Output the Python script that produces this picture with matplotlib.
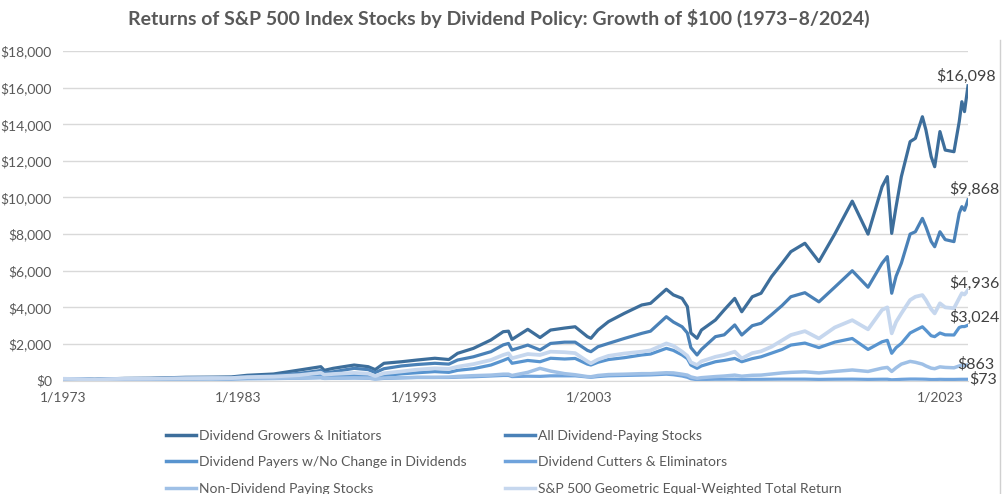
import numpy as np
import matplotlib
matplotlib.use('Agg')
import matplotlib.pyplot as plt
from matplotlib import rcParams
from matplotlib.transforms import ScaledTranslation
from matplotlib.lines import Line2D

rcParams['font.family'] = ['Lato', 'DejaVu Sans']
rcParams['font.size'] = 10

# time grid (decimal years)
years = [1973.0, 1974.0, 1974.8, 1975.5, 1976.5, 1978.0, 1980.0, 1981.5, 1982.6, 1983.5,
         1985.0, 1986.5, 1987.7, 1987.9, 1988.4, 1989.6, 1990.4, 1990.8, 1991.3, 1992.3,
         1993.2, 1994.2, 1995.0, 1995.5, 1996.4, 1997.4, 1998.1, 1998.4, 1998.6, 1999.5,
         2000.2, 2000.8, 2001.6, 2002.2, 2002.9, 2003.1, 2003.5, 2004.1, 2005.0, 2006.0,
         2006.5, 2007.4, 2007.8, 2008.3, 2008.6, 2008.8, 2009.15, 2009.4, 2010.2, 2010.7,
         2011.3, 2011.7, 2012.3, 2012.8, 2013.4, 2014.0, 2014.5, 2015.3, 2016.1, 2017.0,
         2018.0, 2018.9, 2019.7, 2020.0, 2020.25, 2020.5, 2020.8, 2021.3, 2021.6, 2022.0,
         2022.2, 2022.5, 2022.7, 2023.0, 2023.3, 2023.8, 2024.1, 2024.25, 2024.4, 2024.6]

growers = [100, 90, 70, 95, 120, 130, 180, 190, 200, 290,
           360, 580, 760, 560, 670, 850, 760, 600, 945, 1030,
           1125, 1220, 1150, 1490, 1760, 2220, 2670, 2700, 2250, 2800,
           2350, 2760, 2870, 2940, 2400, 2310, 2760, 3220, 3670, 4130,
           4220, 4990, 4680, 4490, 4040, 2600, 2310, 2760, 3310, 3860,
           4490, 3760, 4580, 4770, 5680, 6410, 7040, 7500, 6500, 8000,
           9800, 8000, 10590, 11140, 8040, 9500, 11140, 13050, 13230, 14410,
           13690, 12230, 11680, 13600, 12590, 12500, 14140, 15230, 14690, 16098]

all_payers = [100, 90, 65, 90, 110, 115, 150, 160, 170, 230,
              280, 400, 550, 420, 480, 670, 600, 440, 650, 800,
              880, 945, 900, 1125, 1300, 1580, 1950, 2030, 1670, 1940,
              1670, 2030, 2100, 2100, 1650, 1580, 1850, 2030, 2300, 2580,
              2700, 3490, 3200, 2940, 2600, 1800, 1400, 1700, 2400, 2500,
              3040, 2490, 3000, 3130, 3600, 4100, 4580, 4800, 4300, 5100,
              6000, 5100, 6410, 6770, 4770, 5700, 6410, 8000, 8130, 8860,
              8400, 7600, 7310, 8130, 7700, 7590, 9140, 9500, 9300, 9868]

no_change = [100, 85, 60, 80, 95, 95, 110, 115, 110, 150,
             170, 210, 280, 220, 240, 300, 250, 180, 280, 370,
             430, 490, 450, 560, 650, 850, 1100, 1220, 945, 1100,
             1030, 1220, 1180, 1210, 900, 850, 1000, 1150, 1250, 1400,
             1450, 1760, 1650, 1400, 1200, 850, 670, 800, 1030, 1100,
             1210, 1030, 1200, 1300, 1500, 1700, 1940, 2050, 1800, 2100,
             2300, 1700, 2120, 2200, 1490, 1800, 2030, 2600, 2750, 2940,
             2750, 2450, 2400, 2600, 2500, 2490, 2900, 2950, 2950, 3024]

cutters = [100, 80, 50, 65, 80, 80, 90, 90, 80, 100,
           110, 130, 160, 120, 130, 150, 130, 90, 120, 150,
           170, 170, 170, 190, 210, 250, 280, 280, 220, 240,
           230, 260, 260, 260, 200, 180, 220, 260, 280, 300,
           310, 350, 320, 250, 180, 100, 50, 60, 75, 75,
           80, 65, 70, 70, 75, 80, 80, 80, 65, 75,
           80, 65, 75, 75, 45, 55, 70, 85, 85, 80,
           75, 60, 60, 70, 65, 65, 70, 72, 72, 73]

non_payers = [100, 75, 50, 70, 85, 90, 120, 130, 110, 150,
              130, 140, 170, 120, 130, 150, 140, 100, 140, 160,
              180, 180, 190, 230, 270, 300, 350, 350, 280, 450,
              670, 520, 380, 320, 220, 210, 280, 330, 350, 380,
              380, 430, 420, 350, 300, 200, 125, 160, 220, 250,
              300, 240, 290, 300, 360, 420, 450, 480, 420, 500,
              580, 500, 680, 720, 500, 700, 900, 1050, 1000, 900,
              800, 680, 650, 750, 720, 700, 800, 850, 820, 863]

equal_wt = [100, 80, 55, 80, 100, 105, 130, 140, 140, 190,
            220, 300, 430, 320, 360, 420, 380, 250, 400, 500,
            600, 670, 640, 760, 900, 1125, 1400, 1490, 1220, 1450,
            1400, 1580, 1550, 1500, 1050, 945, 1150, 1350, 1480, 1580,
            1650, 2030, 1900, 1580, 1350, 1000, 850, 1050, 1300, 1400,
            1580, 1210, 1500, 1600, 1850, 2200, 2490, 2700, 2300, 2900,
            3300, 2800, 3860, 4000, 2580, 3200, 3670, 4400, 4580, 4670,
            4400, 3900, 3670, 4220, 4000, 3950, 4500, 4770, 4700, 4936]

series_names = ['Dividend Growers & Initiators', 'All Dividend-Paying Stocks',
                'Dividend Payers w/No Change in Dividends', 'Dividend Cutters & Eliminators',
                'Non-Dividend Paying Stocks', 'S&P 500 Geometric Equal-Weighted Total Return']
end_labels = ['$16,098', '$9,868', '$3,024', '$73', '$863', '$4,936']

tick_years = [1973, 1983, 1993, 2003, 2023]
tick_labels = ['1/1973', '1/1983', '1/1993', '1/2003', '1/2023']
y_ticks = np.arange(0, 18001, 2000)

colors = ['#3D6E9B', '#4A81B7', '#5894CF', '#6FA3DC', '#9FC0E6', '#C6D7EE']
widths = [2.3, 2.3, 2.3, 2.3, 2.5, 2.7]
# label offsets in pixels (dx, dy)
label_off = [(-2, 9), (6, 11), (6, 8), (15, 0), (8, 1), (6, 7)]

fig = plt.figure(figsize=(10.03, 4.94), dpi=100)
ax = fig.add_axes([63/1003, 1-380.6/494, 905/1003, 329.6/494])

data = [growers, all_payers, no_change, cutters, non_payers, equal_wt]
lines = []
for vals, name, c, w in zip(data, series_names, colors, widths):
    ln, = ax.plot(years, vals, color=c, lw=w, label=name, solid_joinstyle='round')
    lines.append(ln)

for vals, lab, (dx, dy) in zip(data, end_labels, label_off):
    ax.annotate(lab, xy=(years[-1], vals[-1]), xytext=(dx*0.72, dy*0.72),
                textcoords='offset points', ha='center', va='center',
                fontsize=11.5, color='#404040')

ax.set_xlim(1973, 2024.6)
ax.set_ylim(0, 18000)
ax.set_yticks(y_ticks)
ax.set_yticklabels(['${:,.0f}'.format(v) for v in y_ticks])
ax.set_xticks(tick_years)
ax.set_xticklabels(tick_labels)
# excel puts the category labels a bit left of the month they belong to
shift = ScaledTranslation(-20/100, 0, fig.dpi_scale_trans)
for lbl in ax.get_xticklabels():
    lbl.set_transform(lbl.get_transform() + shift)

ax.tick_params(axis='both', length=0, labelcolor='#595959', labelsize=10)
ax.tick_params(axis='y', pad=8)
ax.tick_params(axis='x', pad=8)
ax.grid(axis='y', color='#D9D9D9', lw=1)
ax.set_axisbelow(True)
for s in ['top', 'right', 'left']:
    ax.spines[s].set_visible(False)
ax.spines['bottom'].set_color('#D9D9D9')

fig.text(0.497, 1-18/494, 'Returns of S&P 500 Index Stocks by Dividend Policy: Growth of $100 (1973\u20138/2024)',
         ha='center', va='center', fontsize=14, fontweight='bold', color='#595959')

# legend, filled row by row like the original
order = [0, 2, 4, 1, 3, 5]
leg = fig.legend([lines[i] for i in order], [series_names[i] for i in order],
                 ncol=2, loc='upper left', bbox_to_anchor=(153/1003, 1-417/494),
                 frameon=False, fontsize=10, handlelength=2.2, handletextpad=0.2,
                 columnspacing=2.75, labelspacing=1.05, labelcolor='#595959')
for h in leg.legend_handles:
    h.set_linewidth(2.5)

fig.add_artist(Line2D([1000/1003, 1000/1003], [0, 1-40/494], color='#D0D0D0', lw=1))

fig.savefig('out.png', dpi=100)
